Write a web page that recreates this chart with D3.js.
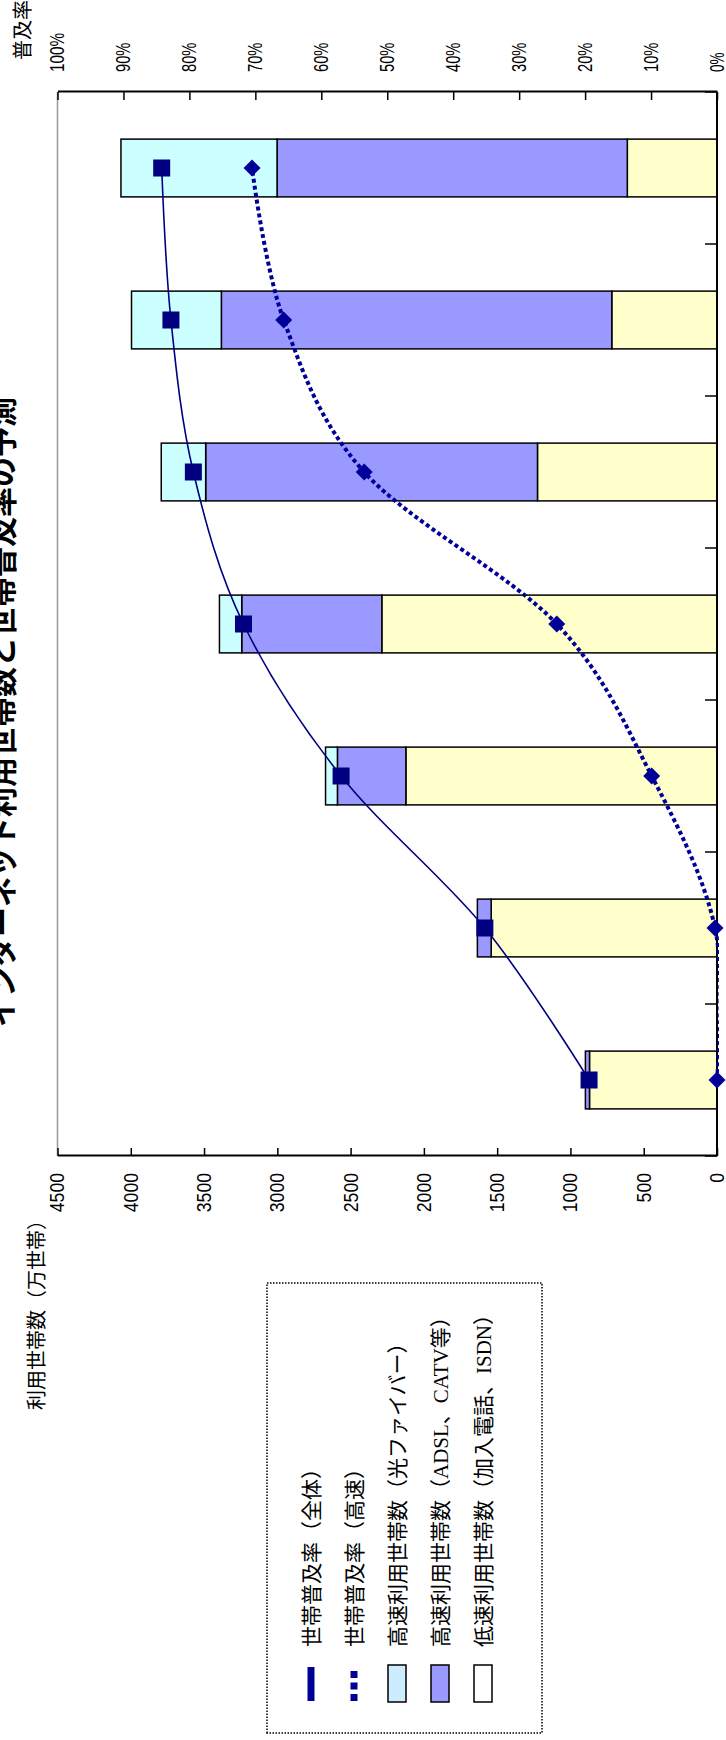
<!DOCTYPE html>
<html lang="ja">
  <head>
    <meta charset="utf-8">
    <title>インターネット利用世帯数と世帯普及率の予測</title>
    <script type="text/javascript" src="https://cdn.jsdelivr.net/npm/d3@7"></script>
    <style type="text/css">
      body { margin: 0; background: #fff; }
      text { font-family: "Noto Sans CJK JP", sans-serif; }
    </style>
  </head>
  <body>
    <script type="text/javascript">

      //Page size (the chart is laid on its side)
      var w = 726;
      var h = 1740;

      //Categories (no labels are shown on the category axis)
      var categories = ["2002", "2003", "2004", "2005", "2006", "2007", "2008"];

      //Households, 万世帯
      var lowSpeed = [870, 1541, 2123, 2287, 1225, 718, 612];
      var adsl     = [28, 94, 467, 956, 2264, 2664, 2390];
      var fiber    = [0, 0, 81, 152, 303, 613, 1065];

      //Penetration rate, %
      var rateAll  = [19.4, 35.2, 57.0, 71.8, 79.4, 82.8, 84.2];
      var rateHigh = [0, 0.3, 9.9, 24.3, 53.5, 65.7, 70.5];

      var countTicks = d3.range(0, 4501, 500);
      var rateTicks = d3.range(0, 11).map(function(d) { return d / 10; });

      var legendLabels = [
        "世帯普及率（全体）",
        "世帯普及率（高速）",
        "高速利用世帯数（光ファイバー）",
        "高速利用世帯数（ADSL、CATV等）",
        "低速利用世帯数（加入電話、ISDN）"
      ];

      var colors = { low: "#FFFFCC", adsl: "#9999FF", fiber: "#CCFFFF" };
      var lineColor = "#000080";
      var dotColor = "#000099";

      //Plot area in the unrotated frame
      var plotL = 584, plotR = 1648, plotT = 57.5, plotB = 717;

      var svg = d3.select("body")
                  .append("svg")
                  .attr("width", w)
                  .attr("height", h);

      //Draw in a 1740 x 726 frame, then turn it a quarter to the left
      var g = svg.append("g")
                 .attr("transform", "translate(0," + h + ") rotate(-90)");

      g.append("clipPath")
       .attr("id", "plotclip")
       .append("rect")
       .attr("x", plotL).attr("y", plotT)
       .attr("width", plotR - plotL).attr("height", plotB - plotT + 2);

      var x = d3.scaleBand().domain(categories).range([plotL, plotR]);
      var y = d3.scaleLinear().domain([0, 4500]).range([plotB, plotT]);
      var yR = d3.scaleLinear().domain([0, 1]).range([plotB, plotT]);

      //Plot area top border
      g.append("line")
       .attr("x1", plotL).attr("x2", plotR)
       .attr("y1", plotT).attr("y2", plotT)
       .style("stroke", "#999")
       .style("stroke-width", 1.5);

      //Stacked bars
      var rows = categories.map(function(c, i) {
        return { cat: c, low: lowSpeed[i], adsl: adsl[i], fiber: fiber[i] };
      });
      var series = d3.stack().keys(["low", "adsl", "fiber"])(rows);
      var barW = x.bandwidth() * 0.38;

      g.selectAll("g.layer")
       .data(series)
       .enter()
       .append("g")
       .attr("class", "layer")
       .attr("fill", function(d) { return colors[d.key]; })
       .selectAll("rect")
       .data(function(d) { return d; })
       .enter()
       .append("rect")
       .attr("x", function(d) { return x(d.data.cat) + (x.bandwidth() - barW) / 2; })
       .attr("y", function(d) { return y(d[1]); })
       .attr("width", barW)
       .attr("height", function(d) { return y(d[0]) - y(d[1]); })
       .style("stroke", "#000")
       .style("stroke-width", 1.5);

      //Category axis
      g.append("line")
       .attr("x1", plotL).attr("x2", plotR)
       .attr("y1", plotB).attr("y2", plotB)
       .style("stroke", "#000")
       .style("stroke-width", 2);

      g.selectAll("line.ctick")
       .data(d3.range(categories.length + 1))
       .enter()
       .append("line")
       .attr("class", "ctick")
       .attr("x1", function(i) { return plotL + i * x.step(); })
       .attr("x2", function(i) { return plotL + i * x.step(); })
       .attr("y1", plotB - 12)
       .attr("y2", plotB)
       .style("stroke", "#000")
       .style("stroke-width", 1.5);

      //Households axis
      var axL = g.append("g")
                 .attr("transform", "translate(" + plotL + ",0)")
                 .call(d3.axisLeft(y)
                         .tickValues(countTicks)
                         .tickFormat(d3.format("d"))
                         .tickSizeInner(-8)
                         .tickSizeOuter(0)
                         .tickPadding(17));

      //Rate axis
      var axR = g.append("g")
                 .attr("transform", "translate(" + plotR + ",0)")
                 .call(d3.axisRight(yR)
                         .tickValues(rateTicks)
                         .tickFormat(d3.format(".0%"))
                         .tickSizeInner(-8)
                         .tickSizeOuter(0)
                         .tickPadding(20));

      [axL, axR].forEach(function(ax) {
        ax.select(".domain").style("stroke", "#000").style("stroke-width", 2);
        ax.selectAll(".tick line").style("stroke", "#000").style("stroke-width", 1.5);
        ax.selectAll(".tick text")
          .style("font-family", "'Liberation Sans', Arial, sans-serif")
          .style("font-size", "20px")
          .attr("fill", "#000")
          .attr("textLength", function() { return this.textContent.length * 9.8; })
          .attr("lengthAdjust", "spacingAndGlyphs");
      });

      //Rate lines (smoothed like the spreadsheet does it)
      var cx = function(d, i) { return x(categories[i]) + x.bandwidth() / 2; };

      var lineAll = d3.line()
                      .x(cx)
                      .y(function(d) { return yR(d / 100); })
                      .curve(d3.curveCatmullRom.alpha(0));

      g.append("path")
       .attr("d", lineAll(rateAll))
       .attr("clip-path", "url(#plotclip)")
       .style("fill", "none")
       .style("stroke", lineColor)
       .style("stroke-width", 1.6);

      g.append("path")
       .attr("d", lineAll(rateHigh))
       .attr("clip-path", "url(#plotclip)")
       .style("fill", "none")
       .style("stroke", dotColor)
       .style("stroke-width", 4)
       .style("stroke-dasharray", "4,3");

      //Square markers
      g.selectAll("rect.sq")
       .data(rateAll)
       .enter()
       .append("rect")
       .attr("class", "sq")
       .attr("x", function(d, i) { return cx(d, i) - 8.5; })
       .attr("y", function(d) { return yR(d / 100) - 8.5; })
       .attr("width", 17)
       .attr("height", 17)
       .style("fill", lineColor);

      //Diamond markers
      g.selectAll("path.dm")
       .data(rateHigh)
       .enter()
       .append("path")
       .attr("class", "dm")
       .attr("d", "M0,-8.5L8.5,0L0,8.5L-8.5,0Z")
       .attr("transform", function(d, i) {
         return "translate(" + cx(d, i) + "," + yR(d / 100) + ")";
       })
       .style("fill", dotColor);

      //Title (cut by the page edge, as in the source)
      g.append("text")
       .attr("x", 713)
       .attr("y", 13)
       .style("font-size", "30px")
       .style("font-weight", "bold")
       .text("インターネット利用世帯数と世帯普及率の予測");

      //Axis titles
      g.append("text")
       .attr("x", 330)
       .attr("y", 44)
       .style("font-size", "20px")
       .text("利用世帯数（万世帯）");

      g.append("text")
       .attr("x", 1680)
       .attr("y", 30)
       .style("font-size", "20px")
       .text("普及率");

      //Legend
      var legend = g.append("g");

      legend.append("rect")
            .attr("x", 7).attr("y", 267)
            .attr("width", 450).attr("height", 275)
            .style("fill", "none")
            .style("stroke", "#000")
            .style("stroke-width", 1.5)
            .style("stroke-dasharray", "1.5,1.5");

      var rowY = function(i) { return 311 + i * 43; };

      legend.append("line")
            .attr("x1", 39).attr("x2", 73)
            .attr("y1", rowY(0)).attr("y2", rowY(0))
            .style("stroke", dotColor)
            .style("stroke-width", 7);

      legend.append("line")
            .attr("x1", 39).attr("x2", 73)
            .attr("y1", rowY(1)).attr("y2", rowY(1))
            .style("stroke", dotColor)
            .style("stroke-width", 7)
            .style("stroke-dasharray", "7,4.5");

      var swatches = ["#CCECFF", colors.adsl, "#FFFFFF"];
      legend.selectAll("rect.sw")
            .data(swatches)
            .enter()
            .append("rect")
            .attr("class", "sw")
            .attr("x", 38)
            .attr("y", function(d, i) { return rowY(i + 2) - 9; })
            .attr("width", 37)
            .attr("height", 18)
            .style("fill", function(d) { return d; })
            .style("stroke", "#000")
            .style("stroke-width", 1.5);

      //Latin words in the legend are set in a serif face
      legend.selectAll("text.lg")
            .data(legendLabels)
            .enter()
            .append("text")
            .attr("class", "lg")
            .attr("x", 93)
            .attr("y", function(d, i) { return rowY(i); })
            .attr("dy", "0.36em")
            .style("font-size", "21px")
            .each(function(d) {
              var t = d3.select(this);
              d.split(/([A-Z]+)/).forEach(function(part) {
                if (!part) return;
                var s = t.append("tspan").text(part);
                if (/^[A-Z]+$/.test(part)) s.style("font-family", "'Liberation Serif', serif");
              });
            });

    </script>
  </body>
</html>
